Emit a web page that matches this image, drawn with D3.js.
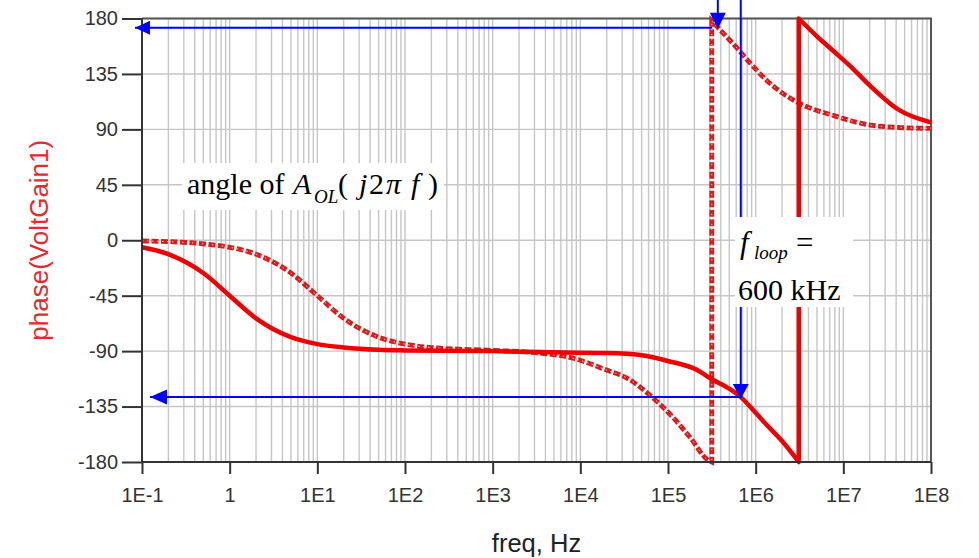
<!DOCTYPE html>
<html>
<head>
<meta charset="utf-8">
<script src="https://cdn.jsdelivr.net/npm/d3@7/dist/d3.min.js"></script>
<style>
  body { margin: 0; background: #fff; }
  svg { display: block; }
</style>
</head>
<body>
<div id="chart"></div>
<script>
// Phase of the open-loop gain (solid) and of the loop gain (dashed)
const freqSolid  = [0.1, 0.2, 0.5, 1, 2, 5, 10, 20, 50, 100, 1e3, 3.45e3, 2e4, 4.8e4, 1e5, 2.1e5, 3.2e5, 5e5, 6.76e5, 1e6, 1.34e6, 2e6, 3.1e6, 3.1e6, 5e6, 7.6e6, 1.3e7, 1.85e7, 4.4e7, 1e8];
const phaseSolid = [-5.7, -11.3, -26.6, -45, -63.4, -78.7, -84.3, -87, -88.9, -89.4, -90, -90.8, -91.6, -93.2, -98, -105, -113, -120.5, -127.3, -140, -150, -163, -180, 180, 165.5, 154, 139, 128, 105.4, 95.7];

const freqDashed  = [0.1, 0.2, 0.5, 1, 2, 5, 10, 20, 50, 100, 200, 1e3, 3.45e3, 8.2e3, 2e4, 3.4e4, 6.2e4, 1.13e5, 1.77e5, 2.85e5, 3.16e5, 3.16e5, 4.2e5, 5.5e5, 8.6e5, 1.34e6, 2.04e6, 3.18e6, 7.6e6, 1.85e7, 4.4e7, 1e8];
const phaseDashed = [-0.6, -1.1, -2.9, -5.7, -11.3, -26.6, -45, -63.4, -78.7, -84.3, -87.1, -89.4, -91.6, -95.7, -105.4, -111.9, -125.7, -143.5, -159.7, -178.4, -180, 178, 168.6, 159.7, 144, 129.7, 119.2, 111, 101.4, 94, 91.5, 90.8];

const xTickValues = [1e-1, 1, 1e1, 1e2, 1e3, 1e4, 1e5, 1e6, 1e7, 1e8];
const xTickLabels = ['1E-1', '1', '1E1', '1E2', '1E3', '1E4', '1E5', '1E6', '1E7', '1E8'];
const yTickValues = [-180, -135, -90, -45, 0, 45, 90, 135, 180];

// annotation anchors (data units)
const wrapFreq = 3.2e5, wrapMarkFreq = 3.7e5, wrapPhase = 172.5;
const loopFreq = 6.76e5, loopPhase = -127.3;
const leftTipTop = 0.0832, leftTipBottom = 0.1234;

const W = 979, H = 558;
const margin = { top: 18.5, right: 48, bottom: 96, left: 142 };

const svg = d3.select('#chart').append('svg')
    .attr('width', W)
    .attr('height', H);

const x = d3.scaleLog()
    .domain([1e-1, 1e8])
    .range([margin.left, W - margin.right]);

const y = d3.scaleLinear()
    .domain([-180, 180])
    .range([H - margin.bottom, margin.top]);

const x0 = x.range()[0], x1 = x.range()[1];
const yTop = y.range()[1], yBot = y.range()[0];

// grid: every 1..9 of each decade, and every 45 degrees
const gridFreqs = [];
for (let e = -1; e < 8; e++) {
    for (let m = 1; m <= 9; m++) gridFreqs.push(m * Math.pow(10, e));
}
gridFreqs.push(1e8);

const grid = svg.append('g').attr('class', 'grid');
grid.selectAll('line.v')
    .data(gridFreqs)
    .enter().append('line')
    .attr('class', 'v')
    .attr('x1', d => x(d)).attr('x2', d => x(d))
    .attr('y1', yTop).attr('y2', yBot)
    .attr('stroke', '#c6c6c6')
    .attr('stroke-width', 1.4);
grid.selectAll('line.h')
    .data(yTickValues)
    .enter().append('line')
    .attr('class', 'h')
    .attr('x1', x0).attr('x2', x1)
    .attr('y1', d => y(d)).attr('y2', d => y(d))
    .attr('stroke', '#c6c6c6')
    .attr('stroke-width', 1.4);

// top and right frame
svg.append('path')
    .attr('d', `M${x0},${yTop}H${x1}V${yBot}`)
    .attr('fill', 'none')
    .attr('stroke', '#555')
    .attr('stroke-width', 2);

// curves: smooth pieces, joined straight across the +/-180 wrap
const smooth = d3.line()
    .x(d => x(d[0]))
    .y(d => y(d[1]))
    .curve(d3.curveMonotoneX);

function wrappedPath(freqs, phases) {
    const pieces = [[]];
    freqs.forEach((f, i) => {
        if (i > 0 && f === freqs[i - 1]) pieces.push([]);
        pieces[pieces.length - 1].push([f, phases[i]]);
    });
    return pieces.map((p, i) => {
        const d = smooth(p);
        return i === 0 ? d : 'L' + d.slice(1);
    }).join('');
}

const dashedPath = wrappedPath(freqDashed, phaseDashed);
const solidPath = wrappedPath(freqSolid, phaseSolid);

svg.append('path')
    .attr('d', dashedPath)
    .attr('fill', 'none')
    .attr('stroke', '#dc1a1a')
    .attr('stroke-width', 4.8)
    .attr('stroke-dasharray', '7,2.5');

svg.append('path')
    .attr('d', dashedPath)
    .attr('fill', 'none')
    .attr('stroke', '#fff')
    .attr('stroke-width', 1)
    .attr('stroke-opacity', 0.75)
    .attr('stroke-dasharray', '1.5,3.5');

svg.append('path')
    .attr('d', solidPath)
    .attr('fill', 'none')
    .attr('stroke', '#f00000')
    .attr('stroke-width', 4.5)
    .attr('stroke-linejoin', 'round');

// axes
const xAxis = d3.axisBottom(x)
    .tickValues(xTickValues)
    .tickSize(12)
    .tickPadding(14)
    .tickFormat((d, i) => xTickLabels[i]);

const gx = svg.append('g')
    .attr('transform', `translate(0,${yBot})`)
    .call(xAxis);

const yAxis = d3.axisLeft(y)
    .tickValues(yTickValues)
    .tickSize(20)
    .tickPadding(4)
    .tickFormat(d => d);

const gy = svg.append('g')
    .attr('transform', `translate(${x0},0)`)
    .call(yAxis);

[gx, gy].forEach(g => {
    g.select('.domain').attr('stroke', '#333').attr('stroke-width', 2);
    g.selectAll('.tick line').attr('stroke', '#333').attr('stroke-width', 2);
    g.selectAll('.tick text')
        .attr('fill', '#333')
        .style('font-family', 'Arial, "Liberation Sans", sans-serif')
        .style('font-size', '20px');
});
gy.select('.domain').attr('d', `M0,${yTop}V${yBot}`);
gx.select('.domain').attr('d', `M${x0},0H${x1}`);

// axis titles
svg.append('text')
    .attr('transform', `translate(39,${(yTop + yBot) / 2}) rotate(-90)`)
    .attr('text-anchor', 'middle')
    .attr('dominant-baseline', 'central')
    .style('font-family', 'Arial, "Liberation Sans", sans-serif')
    .style('font-size', '26px')
    .style('fill', '#e8282a')
    .text('phase(VoltGain1)');

svg.append('text')
    .attr('x', (x0 + x1) / 2)
    .attr('y', 552)
    .attr('text-anchor', 'middle')
    .style('font-family', 'Arial, "Liberation Sans", sans-serif')
    .style('font-size', '25.5px')
    .style('fill', '#222')
    .text('freq, Hz');

// blue annotation arrows
const blue = '#0000ff';
const ann = svg.append('g');

function hLine(yv, fa, fb) {
    ann.append('line')
        .attr('x1', x(fa)).attr('x2', x(fb))
        .attr('y1', y(yv)).attr('y2', y(yv))
        .attr('stroke', blue).attr('stroke-width', 2);
}
function headLeft(tx, ty, len, half) {
    ann.append('path')
        .attr('d', `M${tx},${ty}L${tx + len},${ty - half}L${tx + len},${ty + half}Z`)
        .attr('fill', blue);
}
function headDown(tx, ty, len, half) {
    ann.append('path')
        .attr('d', `M${tx},${ty}L${tx - half},${ty - len}L${tx + half},${ty - len}Z`)
        .attr('fill', blue);
}

// top: 180 degrees at the dashed wrap
hLine(wrapPhase, wrapFreq, leftTipTop);
headLeft(x(leftTipTop), y(wrapPhase), 15, 7);
ann.append('line')
    .attr('x1', x(wrapMarkFreq)).attr('x2', x(wrapMarkFreq))
    .attr('y1', 0).attr('y2', 14)
    .attr('stroke', blue).attr('stroke-width', 2);
headDown(x(wrapMarkFreq), y(wrapPhase) + 1, 16, 8);

// loop frequency marker
ann.append('line')
    .attr('x1', x(loopFreq)).attr('x2', x(loopFreq))
    .attr('y1', 0).attr('y2', y(loopPhase) - 12)
    .attr('stroke', blue).attr('stroke-width', 2);
headDown(x(loopFreq), y(loopPhase) + 2, 15, 8);
hLine(loopPhase, loopFreq, leftTipBottom);
headLeft(x(leftTipBottom), y(loopPhase), 17, 7.5);

// text boxes
const serif = '"Liberation Serif", "Times New Roman", serif';

const b1x = 182, b1y = 163;
svg.append('rect')
    .attr('x', b1x).attr('y', b1y)
    .attr('width', 262).attr('height', 47)
    .attr('fill', '#fff');
const t1 = svg.append('text')
    .attr('y', b1y + 31)
    .style('font-family', serif)
    .style('font-size', '30px')
    .style('fill', '#000');
t1.append('tspan').attr('x', b1x + 5).text('angle of');
t1.append('tspan').attr('x', b1x + 111).style('font-style', 'italic').text('A');
t1.append('tspan').attr('x', b1x + 132).attr('dy', 9).style('font-style', 'italic').style('font-size', '19px').text('OL');
t1.append('tspan').attr('x', b1x + 156).attr('dy', -9).text('(');
t1.append('tspan').attr('x', b1x + 177).style('font-style', 'italic').text('j');
t1.append('tspan').attr('x', b1x + 187).text('2');
t1.append('tspan').attr('x', b1x + 204).style('font-style', 'italic').text('π');
t1.append('tspan').attr('x', b1x + 229).style('font-style', 'italic').text('f');
t1.append('tspan').attr('x', b1x + 246).text(')');

const b2x = 735, b2y = 217;
svg.append('rect')
    .attr('x', b2x).attr('y', b2y)
    .attr('width', 118).attr('height', 90)
    .attr('fill', '#fff');
const t2 = svg.append('text')
    .attr('y', b2y + 36)
    .style('font-family', serif)
    .style('font-size', '31px')
    .style('fill', '#000');
t2.append('tspan').attr('x', b2x + 5).style('font-style', 'italic').text('f');
t2.append('tspan').attr('x', b2x + 19).attr('dy', 6).style('font-style', 'italic').style('font-size', '19px').text('loop');
t2.append('tspan').attr('x', b2x + 61).attr('dy', -6).text('=');
svg.append('text')
    .attr('x', b2x + 3)
    .attr('y', b2y + 83)
    .style('font-family', serif)
    .style('font-size', '30px')
    .style('fill', '#000')
    .text('600 kHz');
</script>
</body>
</html>
